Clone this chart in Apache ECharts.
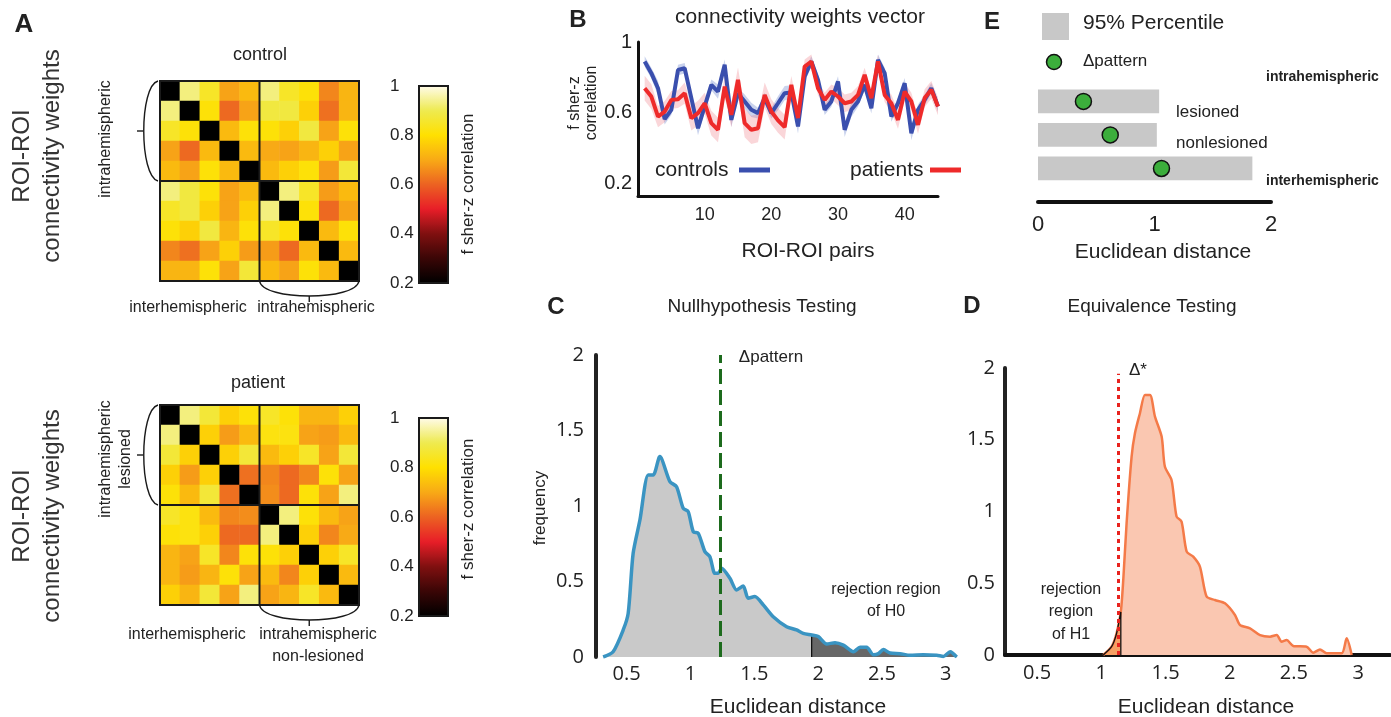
<!DOCTYPE html>
<html><head><meta charset="utf-8">
<script src="https://cdn.jsdelivr.net/npm/echarts@6/dist/echarts.min.js"></script>
<style>html,body{margin:0;padding:0;background:#fff}#c{width:1391px;height:717px}</style>
</head><body><div id="c"></div>
<script>
// ---------------- DATA ----------------
const roiLabels = ['1','2','3','4','5','6','7','8','9','10'];
const controlMatrix = [
 [0.20,0.93,0.85,0.69,0.73, 0.93,0.85,0.81,0.65,0.72],
 [0.93,0.20,0.81,0.61,0.69, 0.88,0.88,0.77,0.62,0.72],
 [0.85,0.81,0.20,0.73,0.81, 0.81,0.77,0.88,0.69,0.81],
 [0.69,0.61,0.73,0.20,0.73, 0.70,0.69,0.72,0.77,0.69],
 [0.73,0.69,0.81,0.73,0.20, 0.73,0.77,0.81,0.68,0.87],
 [0.93,0.88,0.81,0.69,0.73, 0.20,0.93,0.85,0.68,0.73],
 [0.85,0.88,0.77,0.69,0.77, 0.93,0.20,0.81,0.61,0.69],
 [0.81,0.77,0.88,0.72,0.81, 0.85,0.81,0.20,0.73,0.81],
 [0.65,0.62,0.69,0.77,0.68, 0.68,0.61,0.73,0.20,0.73],
 [0.72,0.72,0.81,0.69,0.87, 0.73,0.69,0.81,0.73,0.20]
];
const patientMatrix = [
 [0.20,0.93,0.87,0.77,0.81, 0.85,0.81,0.72,0.72,0.77],
 [0.93,0.20,0.77,0.68,0.73, 0.82,0.82,0.69,0.68,0.73],
 [0.87,0.77,0.20,0.77,0.87, 0.73,0.77,0.85,0.69,0.87],
 [0.77,0.68,0.77,0.20,0.62, 0.65,0.61,0.65,0.81,0.69],
 [0.81,0.73,0.87,0.62,0.20, 0.66,0.61,0.81,0.69,0.93],
 [0.85,0.82,0.73,0.65,0.66, 0.20,0.93,0.81,0.73,0.69],
 [0.81,0.82,0.77,0.61,0.61, 0.93,0.20,0.77,0.65,0.70],
 [0.72,0.69,0.85,0.65,0.81, 0.81,0.77,0.20,0.77,0.85],
 [0.72,0.68,0.72,0.81,0.69, 0.73,0.65,0.77,0.20,0.73],
 [0.77,0.72,0.87,0.69,0.93, 0.69,0.72,0.85,0.73,0.20]
];
const colorbarTicks = [0.2,0.4,0.6,0.8,1];

const pairIndex = [1,2,3,4,5,6,7,8,9,10,11,12,13,14,15,16,17,18,19,20,21,22,23,24,25,26,27,28,29,30,31,32,33,34,35,36,37,38,39,40,41,42,43,44,45];
const controlsMean = [0.89,0.824,0.739,0.564,0.617,0.842,0.852,0.683,0.513,0.636,0.758,0.72,0.871,0.56,0.711,0.664,0.617,0.598,0.683,0.598,0.654,0.711,0.715,0.523,0.805,0.89,0.786,0.617,0.664,0.777,0.504,0.617,0.664,0.758,0.626,0.899,0.824,0.579,0.654,0.767,0.485,0.617,0.673,0.739,0.636];
const controlsSE = [0.03,0.03,0.04,0.03,0.03,0.03,0.03,0.03,0.04,0.03,0.03,0.04,0.03,0.04,0.03,0.04,0.04,0.03,0.03,0.03,0.04,0.04,0.04,0.04,0.03,0.03,0.03,0.03,0.03,0.03,0.04,0.04,0.03,0.03,0.03,0.03,0.03,0.03,0.03,0.03,0.04,0.03,0.03,0.03,0.03];
const patientsMean = [0.739,0.692,0.579,0.607,0.673,0.677,0.711,0.57,0.598,0.654,0.542,0.504,0.748,0.589,0.786,0.542,0.504,0.513,0.701,0.607,0.557,0.519,0.758,0.57,0.861,0.89,0.739,0.673,0.72,0.692,0.654,0.664,0.701,0.814,0.683,0.89,0.701,0.654,0.56,0.72,0.664,0.532,0.683,0.73,0.636];
const patientsSE = [0.07,0.07,0.06,0.06,0.05,0.05,0.06,0.07,0.07,0.06,0.07,0.07,0.06,0.07,0.07,0.08,0.08,0.08,0.07,0.07,0.07,0.07,0.05,0.05,0.04,0.04,0.04,0.04,0.04,0.05,0.05,0.05,0.05,0.04,0.04,0.04,0.04,0.05,0.05,0.05,0.05,0.05,0.05,0.05,0.05];
const bYTicks = [0.2,0.6,1];
const bXTicks = [10,20,30,40];

const eCategories = ['lesioned','nonlesioned','interhemispheric'];
const eRow = [3,2,1];
const ePercentile95 = [1.04,1.02,1.84];
const eDeltaPattern = [0.39,0.62,1.06];

const nullDistX = [0.316,0.394,0.473,0.512,0.551,0.604,0.669,0.708,0.760,0.839,0.891,0.943,0.982,1.022,1.061,1.113,1.152,1.191,1.217,1.243,1.309,1.361,1.413,1.452,1.504,1.570,1.648,1.753,1.831,1.883,1.949,2.001,2.067,2.132,2.197,2.276,2.328,2.380,2.433,2.472,2.511,2.563,2.642,2.720,2.824,2.929,2.981,3.034,3.085];
const nullDensity = [0,0.035,0.179,0.289,0.687,0.907,1.205,1.205,1.327,1.161,1.128,0.985,0.963,0.830,0.819,0.698,0.664,0.554,0.554,0.587,0.521,0.444,0.470,0.389,0.400,0.345,0.267,0.201,0.179,0.157,0.146,0.135,0.086,0.095,0.079,0.035,0.064,0.064,0.015,0.022,0.049,0.026,0.022,0.011,0.015,0.011,0.004,0.035,0];
const h0Critical = 1.949;
const deltaPattern = 1.225;

const equivDistX = [1.015,1.080,1.119,1.152,1.171,1.197,1.236,1.262,1.301,1.340,1.379,1.418,1.470,1.495,1.547,1.586,1.625,1.665,1.716,1.768,1.820,1.885,1.963,2.041,2.080,2.158,2.236,2.314,2.366,2.404,2.443,2.495,2.599,2.651,2.703,2.755,2.872,2.911,2.950];
const equivDensity = [0,0.058,0.151,0.30,0.523,0.918,1.382,1.545,1.685,1.812,1.812,1.661,1.522,1.313,1.220,0.965,0.930,0.720,0.685,0.616,0.407,0.383,0.360,0.279,0.209,0.186,0.139,0.128,0.139,0.093,0.104,0.063,0.058,0.016,0.039,0.012,0.012,0.116,0];
const h1Critical = 1.152;
const deltaStar = 1.132;
const deltaStarTop = 1.96;
const distTicks = [0.5,1,1.5,2,2.5,3];

// ---------------- BUILD ----------------
const FONT = '"Liberation Sans", Arial, sans-serif';
const FONT2 = '"Open Sans", "Noto Sans", sans-serif';
const INK = '#222';
const hotColors = ['#000000','#3a0606','#801010','#e81e28','#ec6222','#f8aa16','#ffe000','#eeea50','#fffbe8'];

function heatData(m){ const d=[]; m.forEach((row,r)=>row.forEach((v,c)=>d.push([c,r,v]))); return d; }
const zip = (a,b)=>a.map((v,i)=>[v,b[i]]);
const nullPts = zip(nullDistX, nullDensity);
const rejH0 = [[h0Critical,0]].concat(nullPts.filter(p=>p[0]>=h0Critical));
const eqPts = zip(equivDistX, equivDensity);
const rejH1 = eqPts.filter(p=>p[0]<=h1Critical).concat([[h1Critical,0]]);

function frameRender(params, api){
  const s = api.size([1,1]);
  const a = api.coord([0,0]), b = api.coord([9,9]), m = api.coord([4,4]);
  const x0=a[0]-s[0]/2, y0=a[1]-s[1]/2, x1=b[0]+s[0]/2, y1=b[1]+s[1]/2;
  const xm=m[0]+s[0]/2, ym=m[1]+s[1]/2;
  const st={stroke:'#1a1a1a', lineWidth:2, fill:null};
  const bs={stroke:'#1a1a1a', lineWidth:1.4, fill:null};
  return {type:'group', children:[
    {type:'rect', shape:{x:x0,y:y0,width:x1-x0,height:y1-y0}, style:st},
    {type:'line', shape:{x1:xm,y1:y0,x2:xm,y2:y1}, style:st},
    {type:'line', shape:{x1:x0,y1:ym,x2:x1,y2:ym}, style:st},
    {type:'bezierCurve', shape:{x1:x0-2,y1:y0,cpx1:x0-21,cpy1:y0+5,cpx2:x0-21,cpy2:ym-5,x2:x0-2,y2:ym}, style:bs},
    {type:'line', shape:{x1:x0-23,y1:(y0+ym)/2,x2:x0-17,y2:(y0+ym)/2}, style:bs},
    {type:'bezierCurve', shape:{x1:xm,y1:y1,cpx1:xm+3,cpy1:y1+20,cpx2:x1-3,cpy2:y1+20,x2:x1,y2:y1}, style:bs},
    {type:'line', shape:{x1:(xm+x1)/2,y1:y1+15,x2:(xm+x1)/2,y2:y1+21}, style:bs}
  ]};
}

function bandSeries(mean, se, color){
  return {type:'custom', xAxisIndex:4, yAxisIndex:4, silent:true, z:1,
    data: pairIndex.map((x,i)=>[x, mean[i]-se[i], mean[i]+se[i]]),
    encode:{x:0, y:[1,2]},
    renderItem:function(params, api){
      if (params.dataIndex !== 0) return null;
      const up=[], lo=[];
      pairIndex.forEach((x,i)=>{ up.push(api.coord([x, mean[i]+se[i]])); lo.push(api.coord([x, mean[i]-se[i]])); });
      return {type:'polygon', shape:{points:up.concat(lo.reverse())}, style:{fill:color}};
    }};
}

function txt(x,y,s,o){ o=o||{};
  return {type:'text', x:x, y:y, rotation:o.rot||0, z:100, silent:true,
    style:{text:s, fill:o.color||INK, font:(o.bold?'bold ':'')+(o.size||15)+'px '+(o.family||FONT),
      align:o.align||'center', verticalAlign:'middle', lineHeight:o.lh||undefined}};
}
const R = Math.PI/2;
const graphics = [
  txt(24,25,'A',{bold:true,size:26}),
  txt(37,156,'ROI-ROI\nconnectivity weights',{size:24,rot:R,lh:30,color:'#333'}),
  txt(260,55,'control',{size:18}),
  txt(106,139,'intrahemispheric',{size:16,rot:R}),
  txt(188,308,'interhemispheric',{size:16}),
  txt(316,308,'intrahemispheric',{size:16}),
  txt(468,184,'f sher-z correlation',{size:17,rot:R}),
  txt(258,383,'patient',{size:18}),
  txt(37,516,'ROI-ROI\nconnectivity weights',{size:24,rot:R,lh:30,color:'#333'}),
  txt(116,459,'intrahemispheric\nlesioned',{size:16,rot:R,lh:20}),
  txt(187,635,'interhemispheric',{size:16}),
  txt(318,646,'intrahemispheric\nnon-lesioned',{size:16,lh:22}),
  txt(468,509,'f sher-z correlation',{size:17,rot:R}),
  // B
  txt(578,20,'B',{bold:true,size:24}),
  txt(800,17,'connectivity weights vector',{size:21}),
  txt(583,103,'f sher-z\ncorrelation',{size:16,rot:R,lh:17}),
  txt(655,170,'controls',{size:21,align:'left'}),
  {type:'line', z:100, shape:{x1:739,y1:170,x2:770,y2:170}, style:{stroke:'#3a4fae',lineWidth:5}},
  txt(850,170,'patients',{size:21,align:'left'}),
  {type:'line', z:100, shape:{x1:930,y1:170,x2:961,y2:170}, style:{stroke:'#ee2a2a',lineWidth:5}},
  txt(808,251,'ROI-ROI pairs',{size:21}),
  // E
  txt(992,22,'E',{bold:true,size:24}),
  {type:'rect', z:100, shape:{x:1042,y:13,width:27,height:27}, style:{fill:'#c8c8c8'}},
  txt(1083,23,'95% Percentile',{size:21,align:'left'}),
  {type:'circle', z:100, shape:{cx:1054,cy:62,r:7.5}, style:{fill:'#3cae3c',stroke:'#111',lineWidth:1.5}},
  txt(1083,61,'\u0394pattern',{size:17,align:'left'}),
  txt(1266,77,'intrahemispheric',{size:14,bold:true,align:'left'}),
  txt(1176,112,'lesioned',{size:17,align:'left'}),
  txt(1176,143,'nonlesioned',{size:17,align:'left'}),
  txt(1266,181,'interhemispheric',{size:14,bold:true,align:'left'}),
  txt(1163,252,'Euclidean distance',{size:21}),
  // C
  txt(556,307,'C',{bold:true,size:24}),
  txt(762,307,'Nullhypothesis Testing',{size:19}),
  txt(540,508,'frequency',{size:17,rot:R}),
  txt(798,707,'Euclidean distance',{size:21}),
  txt(771,357,'\u0394pattern',{size:17}),
  txt(886,601,'rejection region\nof H0',{size:16,lh:22}),
  // D
  txt(972,306,'D',{bold:true,size:24}),
  txt(1152,307,'Equivalence Testing',{size:19}),
  txt(1138,370,'\u0394*',{size:17}),
  txt(1071,612,'rejection\nregion\nof H1',{size:16,lh:22.5}),
  txt(1206,707,'Euclidean distance',{size:21})
];

const hid = (g)=>({gridIndex:g, type:'value', show:false});
const catAx = (g,inv)=>({gridIndex:g, type:'category', data:roiLabels, show:false, inverse:!!inv});
const tickFont = {color:INK, fontFamily:FONT2, fontSize:20};

const option = {
  animation:false,
  backgroundColor:'#fff',
  grid:[
    {left:160, top:81, width:199, height:200},
    {left:160, top:405, width:199, height:200},
    {left:419, top:86, width:29, height:197, show:true, borderColor:'#1a1a1a', borderWidth:2, z:6},
    {left:419, top:418, width:29, height:198, show:true, borderColor:'#1a1a1a', borderWidth:2, z:6},
    {left:638, top:42, width:300, height:154},
    {left:1038, top:101.4, width:233, height:100.6},
    {left:596, top:355, width:362.6, height:302},
    {left:1005, top:368, width:385, height:287}
  ],
  xAxis:[
    catAx(0), catAx(1), hid(2), hid(3),
    {gridIndex:4, type:'value', min:0, max:45, axisLine:{lineStyle:{color:'#111',width:3}}, axisTick:{show:false}, splitLine:{show:false},
      axisLabel:{customValues:bXTicks, color:INK, fontFamily:FONT, fontSize:18, margin:10}},
    {gridIndex:5, type:'value', min:0, max:2, interval:1, axisLine:{lineStyle:{color:'#111',width:4}}, axisTick:{show:false}, splitLine:{show:false},
      axisLabel:{color:INK, fontFamily:FONT, fontSize:22, margin:12}},
    {gridIndex:6, type:'value', min:0.26, max:3.1, axisLine:{show:false}, axisTick:{show:false}, splitLine:{show:false},
      axisLabel:Object.assign({customValues:distTicks, margin:7}, tickFont)},
    {gridIndex:7, type:'value', min:0.25, max:3.2484, axisLine:{lineStyle:{color:'#111',width:4}}, axisTick:{show:false}, splitLine:{show:false},
      axisLabel:Object.assign({customValues:distTicks, margin:8}, tickFont)}
  ],
  yAxis:[
    catAx(0,true), catAx(1,true),
    {gridIndex:2, type:'value', min:0.2, max:1, interval:0.2, axisLine:{show:false}, axisTick:{show:false}, splitLine:{show:false},
      axisLabel:{customValues:colorbarTicks, color:INK, fontFamily:FONT, fontSize:17, align:'left', margin:29}},
    {gridIndex:3, type:'value', min:0.2, max:1, interval:0.2, axisLine:{show:false}, axisTick:{show:false}, splitLine:{show:false},
      axisLabel:{customValues:colorbarTicks, color:INK, fontFamily:FONT, fontSize:17, align:'left', margin:29}},
    {gridIndex:4, type:'value', min:0.13, max:1, axisLine:{show:true, lineStyle:{color:'#111',width:3}}, axisTick:{show:false}, splitLine:{show:false},
      axisLabel:{customValues:bYTicks, color:INK, fontFamily:FONT, fontSize:20, margin:6}},
    hid(5),
    {gridIndex:6, type:'value', min:0, max:2, interval:0.5, axisLine:{show:true, lineStyle:{color:'#222',width:4}}, axisTick:{show:false}, splitLine:{show:false},
      axisLabel:Object.assign({margin:12}, tickFont)},
    {gridIndex:7, type:'value', min:0, max:2, interval:0.5, axisLine:{show:true, lineStyle:{color:'#222',width:4}}, axisTick:{show:false}, splitLine:{show:false},
      axisLabel:Object.assign({margin:10}, tickFont)}
  ],
  visualMap:[
    {type:'continuous', seriesIndex:0, min:0.2, max:1, left:419, top:86, itemWidth:29, itemHeight:197, padding:0,
      calculable:false, hoverLink:false, inRange:{color:hotColors}},
    {type:'continuous', seriesIndex:1, min:0.2, max:1, left:419, top:418, itemWidth:29, itemHeight:198, padding:0,
      calculable:false, hoverLink:false, inRange:{color:hotColors}}
  ],
  series:[
    {type:'heatmap', xAxisIndex:0, yAxisIndex:0, data:heatData(controlMatrix), emphasis:{disabled:true}},
    {type:'heatmap', xAxisIndex:1, yAxisIndex:1, data:heatData(patientMatrix), emphasis:{disabled:true}},
    {type:'custom', xAxisIndex:0, yAxisIndex:0, data:[[0,0]], renderItem:frameRender, z:5, silent:true, clip:false},
    {type:'custom', xAxisIndex:1, yAxisIndex:1, data:[[0,0]], renderItem:frameRender, z:5, silent:true, clip:false},
    // B bands and lines
    bandSeries(controlsMean, controlsSE, 'rgba(95,120,200,0.33)'),
    bandSeries(patientsMean, patientsSE, 'rgba(240,120,130,0.30)'),
    {type:'line', name:'controls', xAxisIndex:4, yAxisIndex:4, symbol:'none', z:3, lineStyle:{color:'#3a4fae', width:4},
      data:zip(pairIndex, controlsMean)},
    {type:'line', name:'patients', xAxisIndex:4, yAxisIndex:4, symbol:'none', z:3, lineStyle:{color:'#ee2a2a', width:4},
      data:zip(pairIndex, patientsMean)},
    // E
    {type:'custom', xAxisIndex:5, yAxisIndex:5, data:eRow.map((r,i)=>[ePercentile95[i], r]), silent:true,
      renderItem:function(params, api){
        const y=api.value(1); const p0=api.coord([0,y]), p1=api.coord([api.value(0),y]);
        const h=api.size([0,0.71])[1];
        return {type:'rect', shape:{x:p0[0], y:p0[1]-h/2, width:p1[0]-p0[0], height:h}, style:{fill:'#c8c8c8'}};
      }},
    {type:'scatter', xAxisIndex:5, yAxisIndex:5, symbolSize:16, z:4, silent:true,
      itemStyle:{color:'#3cae3c', borderColor:'#111', borderWidth:1.5, opacity:1},
      data:eRow.map((r,i)=>[eDeltaPattern[i], r])},
    // C
    {type:'line', xAxisIndex:6, yAxisIndex:6, symbol:'none', smooth:0.25, lineStyle:{width:0},
      areaStyle:{color:'#c9c9c9', opacity:1}, data:nullPts},
    {type:'line', xAxisIndex:6, yAxisIndex:6, symbol:'none', smooth:0.25, lineStyle:{width:1.3, color:'#111'},
      areaStyle:{color:'#676767', opacity:1}, data:rejH0},
    {type:'line', xAxisIndex:6, yAxisIndex:6, symbol:'none', smooth:0.25, lineStyle:{width:3.5, color:'#3a94c2'}, data:nullPts,
      markLine:{silent:true, symbol:'none', label:{show:false}, lineStyle:{color:'#1d6b1d', width:3, type:[15,6]},
        data:[{xAxis:deltaPattern}]}},
    // D
    {type:'line', xAxisIndex:7, yAxisIndex:7, symbol:'none', smooth:0.25, lineStyle:{width:2.5, color:'#f47a48'},
      areaStyle:{color:'#fac7b1', opacity:1}, data:eqPts},
    {type:'line', xAxisIndex:7, yAxisIndex:7, symbol:'none', smooth:0.2, lineStyle:{width:1.3, color:'#111'},
      areaStyle:{color:'#f6a063', opacity:1}, data:rejH1,
      markLine:{silent:true, symbol:'none', label:{show:false}, lineStyle:{color:'#e8231f', width:3, type:[4,4]},
        data:[[{coord:[deltaStar,0]},{coord:[deltaStar,deltaStarTop]}]]}}
  ],
  graphic:graphics
};
const chart = echarts.init(document.getElementById('c'), null, {renderer:'canvas'});
chart.setOption(option);
</script></body></html>
